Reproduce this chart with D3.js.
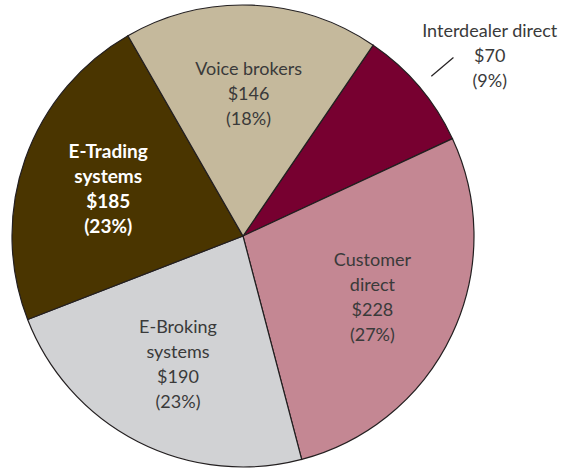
<!DOCTYPE html>
<html>
<head>
<meta charset="utf-8">
<script src="https://cdn.jsdelivr.net/npm/d3@7"></script>
<style>
  body { margin: 0; background: #fff; }
  text { font-family: Lato, "Noto Sans", sans-serif; font-size: 18px; }
</style>
</head>
<body>
<div id="chart"></div>
<script>
// slices, clockwise from the Interdealer slice
var categories = ["Interdealer direct", "Customer direct", "E-Broking systems", "E-Trading systems", "Voice brokers"];
var values = [70, 228, 190, 185, 146];
var percents = ["9%", "27%", "23%", "23%", "18%"];
var labelLines = [
    ["Interdealer direct"],
    ["Customer", "direct"],
    ["E-Broking", "systems"],
    ["E-Trading", "systems"],
    ["Voice brokers"]
];
var colors = ["#770030", "#c48793", "#d1d2d4", "#4a3500", "#c5b99c"];

var width = 561, height = 469;
var cx = 243, cy = 236, radius = 231;
var startAngle = 34.3 * Math.PI / 180;

var svg = d3.select("#chart").append("svg")
    .attr("width", width)
    .attr("height", height);

var g = svg.append("g")
    .attr("transform", "translate(" + cx + "," + cy + ")");

var pie = d3.pie()
    .sort(null)
    .value(function(d) { return d; })
    .startAngle(startAngle)
    .endAngle(startAngle + 2 * Math.PI);

var arcs = pie(values);

var arc = d3.arc().innerRadius(0).outerRadius(radius);
var labelArc = d3.arc().innerRadius(143).outerRadius(143);

g.selectAll(".slice")
    .data(arcs)
  .enter().append("path")
    .attr("class", "slice")
    .attr("d", arc)
    .style("fill", function(d, i) { return colors[i]; })
    .style("stroke", "#231f20")
    .style("stroke-width", 1.2);

// leader line for the small slice
var mid = (arcs[0].startAngle + arcs[0].endAngle) / 2;
g.append("line")
    .attr("x1", Math.sin(mid) * 247).attr("y1", -Math.cos(mid) * 247)
    .attr("x2", Math.sin(mid) * 276).attr("y2", -Math.cos(mid) * 276)
    .style("stroke", "#231f20")
    .style("stroke-width", 1.2);

var lineH = 25;

arcs.forEach(function(d, i) {
    var lines = labelLines[i].concat(["$" + values[i], "(" + percents[i] + ")"]);
    var pos;
    if (i === 0) {
        pos = [Math.sin(mid) * 300 + 18, -Math.cos(mid) * 300 + 13];
    } else {
        pos = labelArc.centroid(d);
    }
    var bold = i === 3;
    var t = g.append("text")
        .attr("text-anchor", "middle")
        .style("fill", bold ? "#ffffff" : "#3a3a3a")
        .style("font-weight", bold ? "bold" : "normal")
        .style("font-size", bold ? "19px" : "18px");
    var y0 = pos[1] - (lines.length - 1) * lineH / 2 + 7;
    lines.forEach(function(s, k) {
        t.append("tspan")
            .attr("x", pos[0])
            .attr("y", y0 + k * lineH)
            .text(s);
    });
});
</script>
</body>
</html>
